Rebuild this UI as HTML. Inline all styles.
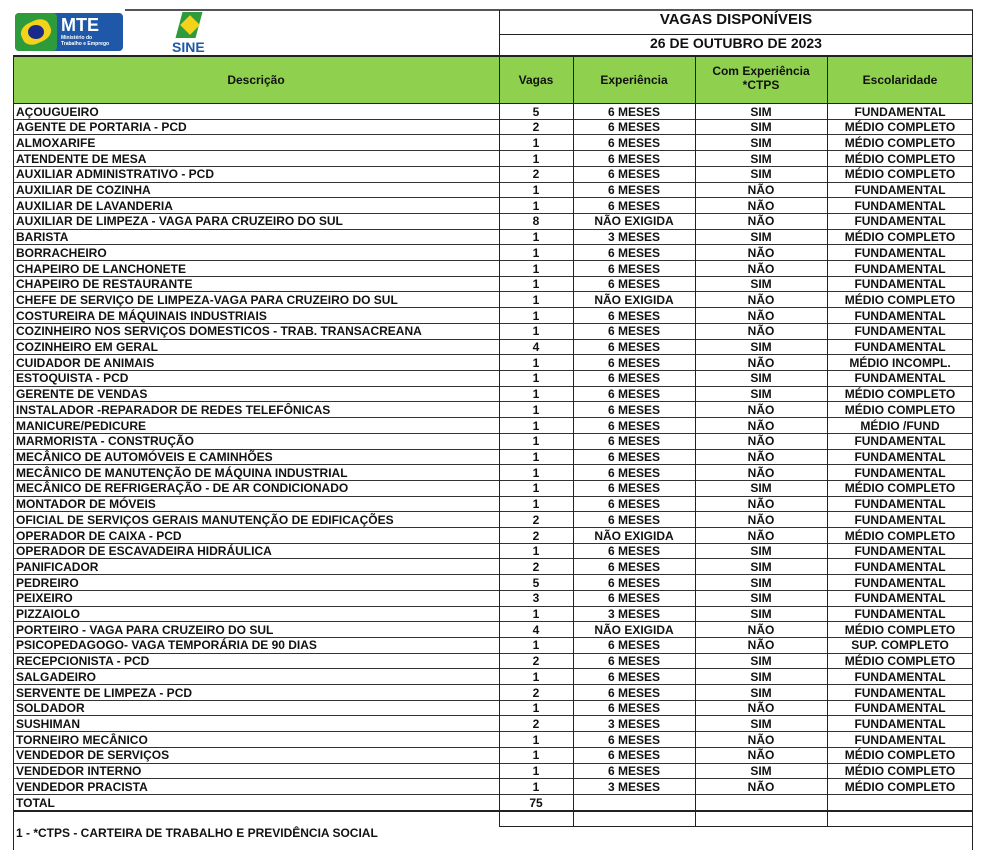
<!DOCTYPE html>
<html><head><meta charset="utf-8">
<style>
body{margin:0;background:#fff;width:984px;height:868px;position:relative;overflow:hidden;font-family:"Liberation Sans",Arial,sans-serif;}
.a{position:absolute;box-sizing:border-box;}
.t{position:absolute;font-weight:bold;font-size:12px;color:#111;white-space:nowrap;line-height:15px;}
.h{position:absolute;background:#222;}
</style></head><body>
<div class="a" style="left:125px;top:9px;width:848px;height:2px;background:#555"></div>
<div class="a" style="left:15px;top:13px;width:108px;height:38px;background:#1f58a8;border-radius:4px">
  <div class="a" style="left:0;top:0;width:42px;height:38px;background:#2d9a3c;border-radius:4px"></div>
  <div class="a" style="left:6px;top:8px;width:30px;height:22px;background:#f2d21a;transform:rotate(-25deg);border-radius:40%"></div>
  <div class="a" style="left:13px;top:12px;width:16px;height:14px;background:#1a2a8a;border-radius:50%"></div>
  <div class="t" style="left:46px;top:2px;font-size:18px;color:#fff;line-height:20px">MTE</div>
  <div class="t" style="left:46px;top:22px;font-size:5px;color:#fff;line-height:6px">Ministério do<br>Trabalho e Emprego</div>
</div>
<div class="a" style="left:170px;top:12px;width:45px;height:44px">
  <div class="a" style="left:9px;top:0;width:20px;height:26px;background:#2d9a3c;transform:skewX(-15deg)"></div>
  <div class="a" style="left:13px;top:6px;width:14px;height:14px;background:#f2d21a;transform:rotate(45deg)"></div>
  <div class="t" style="left:2px;top:28px;font-size:14px;color:#1f58a8;line-height:15px">SINE</div>
</div>
<div id="tbl"></div>
<script>
const jobs=["AÇOUGUEIRO","AGENTE DE PORTARIA - PCD","ALMOXARIFE","ATENDENTE DE MESA","AUXILIAR ADMINISTRATIVO -  PCD","AUXILIAR DE COZINHA","AUXILIAR DE LAVANDERIA","AUXILIAR DE LIMPEZA - VAGA PARA CRUZEIRO DO SUL","BARISTA","BORRACHEIRO","CHAPEIRO DE LANCHONETE","CHAPEIRO DE RESTAURANTE","CHEFE DE SERVIÇO DE LIMPEZA-VAGA PARA CRUZEIRO DO SUL","COSTUREIRA DE MÁQUINAIS  INDUSTRIAIS","COZINHEIRO NOS SERVIÇOS DOMESTICOS - TRAB. TRANSACREANA","COZINHEIRO EM GERAL","CUIDADOR DE ANIMAIS","ESTOQUISTA - PCD","GERENTE DE VENDAS","INSTALADOR -REPARADOR DE REDES TELEFÔNICAS","MANICURE/PEDICURE","MARMORISTA - CONSTRUÇÃO","MECÂNICO DE AUTOMÓVEIS E CAMINHÕES","MECÂNICO DE MANUTENÇÃO DE MÁQUINA INDUSTRIAL","MECÂNICO DE REFRIGERAÇÃO - DE AR CONDICIONADO","MONTADOR DE MÓVEIS","OFICIAL DE SERVIÇOS GERAIS MANUTENÇÃO DE EDIFICAÇÕES","OPERADOR DE CAIXA - PCD","OPERADOR DE ESCAVADEIRA HIDRÁULICA","PANIFICADOR","PEDREIRO","PEIXEIRO","PIZZAIOLO","PORTEIRO - VAGA PARA CRUZEIRO DO SUL","PSICOPEDAGOGO- VAGA TEMPORÁRIA DE 90 DIAS","RECEPCIONISTA - PCD","SALGADEIRO","SERVENTE DE LIMPEZA - PCD","SOLDADOR","SUSHIMAN","TORNEIRO MECÂNICO","VENDEDOR DE SERVIÇOS","VENDEDOR INTERNO","VENDEDOR PRACISTA"];
const vagas=[5,2,1,1,2,1,1,8,1,1,1,1,1,1,1,4,1,1,1,1,1,1,1,1,1,1,2,2,1,2,5,3,1,4,1,2,1,2,1,2,1,1,1,1];
const exper=["6 MESES","6 MESES","6 MESES","6 MESES","6 MESES","6 MESES","6 MESES","NÃO EXIGIDA","3 MESES","6 MESES","6 MESES","6 MESES","NÃO EXIGIDA","6 MESES","6 MESES","6 MESES","6 MESES","6 MESES","6 MESES","6 MESES","6 MESES","6 MESES","6 MESES","6 MESES","6 MESES","6 MESES","6 MESES","NÃO EXIGIDA","6 MESES","6 MESES","6 MESES","6 MESES","3 MESES","NÃO EXIGIDA","6 MESES","6 MESES","6 MESES","6 MESES","6 MESES","3 MESES","6 MESES","6 MESES","6 MESES","3 MESES"];
const ctps=["SIM","SIM","SIM","SIM","SIM","NÃO","NÃO","NÃO","SIM","NÃO","NÃO","SIM","NÃO","NÃO","NÃO","SIM","NÃO","SIM","SIM","NÃO","NÃO","NÃO","NÃO","NÃO","SIM","NÃO","NÃO","NÃO","SIM","SIM","SIM","SIM","SIM","NÃO","NÃO","SIM","SIM","SIM","NÃO","SIM","NÃO","NÃO","SIM","NÃO"];
const escol=["FUNDAMENTAL","MÉDIO COMPLETO","MÉDIO COMPLETO","MÉDIO COMPLETO","MÉDIO COMPLETO","FUNDAMENTAL","FUNDAMENTAL","FUNDAMENTAL","MÉDIO COMPLETO","FUNDAMENTAL","FUNDAMENTAL","FUNDAMENTAL","MÉDIO COMPLETO","FUNDAMENTAL","FUNDAMENTAL","FUNDAMENTAL","MÉDIO INCOMPL.","FUNDAMENTAL","MÉDIO COMPLETO","MÉDIO COMPLETO","MÉDIO /FUND","FUNDAMENTAL","FUNDAMENTAL","FUNDAMENTAL","MÉDIO COMPLETO","FUNDAMENTAL","FUNDAMENTAL","MÉDIO COMPLETO","FUNDAMENTAL","FUNDAMENTAL","FUNDAMENTAL","FUNDAMENTAL","FUNDAMENTAL","MÉDIO COMPLETO","SUP. COMPLETO","MÉDIO COMPLETO","FUNDAMENTAL","FUNDAMENTAL","FUNDAMENTAL","FUNDAMENTAL","FUNDAMENTAL","MÉDIO COMPLETO","MÉDIO COMPLETO","MÉDIO COMPLETO"];
const headers=["Descrição","Vagas","Experiência","Com Experiência<br>*CTPS","Escolaridade"];

const T=document.getElementById('tbl');
const X=[13,499,573,695,827,973];
const top0=104, RH=15.705;
function box(x,y,w,h,bg){const d=document.createElement('div');d.className='h';d.style.cssText=`left:${x}px;top:${y}px;width:${w}px;height:${h}px;background:${bg||'#222'}`;T.appendChild(d);return d;}
function txt(s,x,y,w,align,name){const d=document.createElement('div');d.className='t';d.innerHTML=s;d.style.left=x+'px';d.style.top=y+'px';d.style.width=w+'px';d.style.textAlign=align;


T.appendChild(d);return d;}
box(499,10,1,46);box(972,10,1,46);box(499,34,474,1);
txt("VAGAS DISPONÍVEIS",499,12,474,'center','title').style.fontSize='15px';
txt("26 DE OUTUBRO DE 2023",499,36,474,'center','date').style.fontSize='14px';
box(13,56,960,48,'#8fd14f');
box(13,55,960,2);box(13,103,960,1);
for(let i=0;i<headers.length;i++){
  const d=txt(headers[i],X[i],headers[i].includes('<br>')?64:73,X[i+1]-X[i],'center','column-header');
  d.style.lineHeight='14px';
}
const n=jobs.length;
for(let r=0;r<n;r++){
  const y=top0+r*RH;
  box(13,Math.round(y+RH-1),960,1,'#333');
  txt(jobs[r],16,y+0.5,480,'left','job-title');
  txt(String(vagas[r]),X[1],y+0.5,X[2]-X[1],'center','vagas-count');
  txt(exper[r],X[2],y+0.5,X[3]-X[2],'center','experience');
  txt(ctps[r],X[3],y+0.5,X[4]-X[3],'center','ctps');
  txt(escol[r],X[4],y+0.5,X[5]-X[4],'center','education');
}
const yT=top0+n*RH;
txt("TOTAL",16,yT+0.5,480,'left','total-label');
txt(String(vagas.reduce((a,b)=>a+b,0)),X[1],yT+0.5,X[2]-X[1],'center','total-value');
box(13,Math.round(yT+RH-1),960,2);
box(499,Math.round(yT+2*RH),474,1);
box(13,55,1,795);box(972,55,1,795);
for(let i=1;i<5;i++) box(X[i],55,1,yT+2*RH-55);
txt("1 - *CTPS - CARTEIRA DE TRABALHO E PREVIDÊNCIA SOCIAL",16,826,500,'left','footnote');
</script>
</body></html>
